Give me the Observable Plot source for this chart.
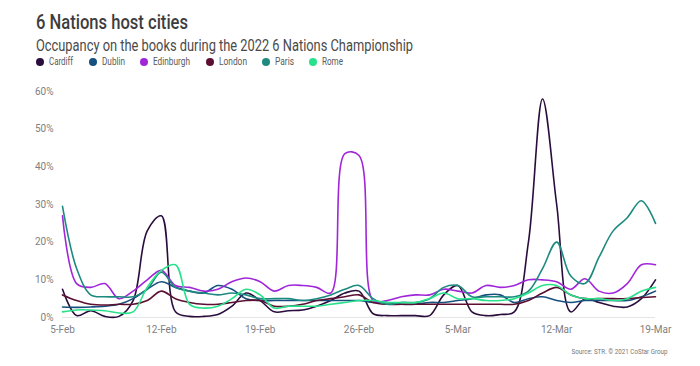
<!DOCTYPE html>
<html>
<head>
<meta charset="utf-8">
<script src="https://cdn.jsdelivr.net/npm/d3@7"></script>
<script src="https://cdn.jsdelivr.net/npm/@observablehq/plot@0.6"></script>
<style>
  body { margin: 0; background: #fff; font-family: "Roboto", sans-serif; }
  #wrap { width: 700px; height: 366px; position: relative; overflow: hidden; }
  .t { position: absolute; white-space: nowrap; display: inline-block; }
  #title { left: 36px; top: 10px; font-size: 21px; font-weight: 500; color: #3d3d3d; transform-origin: left center; }
  #subtitle { left: 36px; top: 35px; font-size: 17px; color: #4a4a4a; transform-origin: left center; }
  .dot { position: absolute; width: 8px; height: 8px; border-radius: 50%; top: 58px; }
  .lab { top: 55px; font-size: 11px; color: #5a5a5a; transform-origin: left center; }
  #chart { position: absolute; left: 0; top: 72px; }
  #source { right: 32px; top: 347px; font-size: 7.5px; color: #777; transform-origin: right center; }
</style>
</head>
<body>
<div id="wrap">
  <div id="title" class="t">6 Nations host cities</div>
  <div id="subtitle" class="t">Occupancy on the books during the 2022 6 Nations Championship</div>
  <div id="legend"></div>
  <div id="chart"></div>
  <div id="source" class="t">Source: STR. © 2021 CoStar Group</div>
</div>
<script>
const cities = ["Cardiff", "Dublin", "Edinburgh", "London", "Paris", "Rome"];
const colors = ["#2a0d3d", "#17507f", "#a126d8", "#5c0f31", "#1d8a80", "#27e28a"];
const startDate = "2022-02-05";
const tickDates = ["2022-02-05", "2022-02-12", "2022-02-19", "2022-02-26", "2022-03-05", "2022-03-12", "2022-03-19"];
const yTicks = [0, 10, 20, 30, 40, 50, 60];

// Daily occupancy (%) Feb 5 -> Mar 19
const cardiff = [7.5, 0.5, 1.8, 0.3, 0.3, 4.5, 23, 27, 1.5, 0.3, 0.3, 0.8, 3, 6.5, 4.5, 1.5, 1.8, 2, 3, 4.5, 6.5, 7, 1, 0.5, 0.5, 0.5, 0.5, 6, 8.5, 1.5, 0.5, 0.8, 1.5, 20, 58, 30, 1.5, 5, 4, 3, 2.8, 5, 10];
const dublin = [2.8, 2.7, 2.8, 3, 3.5, 5, 7.5, 9.5, 8, 7, 6.5, 8.5, 7.5, 5, 4.5, 4.5, 4.5, 4.5, 4.5, 4.5, 4.5, 4.5, 4, 4, 3.5, 3.5, 4, 4, 4.5, 5, 6, 6, 4, 5, 5.5, 4.5, 4, 4.5, 4.5, 4.5, 4.5, 5.5, 7];
const edinburgh = [27, 9, 8, 9, 5, 7, 10, 12.5, 8.5, 8, 7, 7.5, 9.5, 10.5, 9.5, 7, 8.5, 8.5, 8, 6.5, 43.5, 43, 4.5, 4.5, 5.5, 6, 6, 7.5, 7, 6.5, 8.5, 8, 8.5, 10, 10, 9.5, 7.5, 10.3, 7, 6.5, 9, 14, 14];
const london = [6, 4.5, 3.5, 3.3, 3.5, 3.5, 4.5, 7, 5, 4, 3.5, 3.5, 4, 4.5, 4.5, 3, 3, 3.5, 4.5, 5, 5.5, 6, 4, 3.5, 3.5, 3.5, 3.5, 3.5, 3.5, 3.5, 3.5, 3.5, 3.5, 4.5, 6.5, 8, 6, 5, 5, 5, 5, 5.3, 5.5];
const paris = [29.5, 13, 6, 5.5, 5.5, 5.5, 7.5, 12, 8, 7, 6.5, 6, 6.5, 6, 5, 5, 5, 4.5, 5, 6, 7.5, 8.5, 5, 3.5, 4, 4, 5, 8, 8.5, 5.5, 5.5, 5.5, 5.5, 7, 13, 20, 11, 9, 16, 23, 26.5, 31, 25];
const rome = [1.5, 2, 2, 1.8, 1.2, 1.5, 8, 12.5, 14, 3.5, 2.5, 3, 5, 7.5, 6, 2.5, 3, 3, 3, 3.5, 4, 4.5, 4.5, 4, 4, 4, 5, 6.5, 5, 5, 4.5, 4.5, 5, 6.5, 8.5, 8.5, 6, 5, 5, 4.5, 5, 7, 8];

const series = [cardiff, dublin, edinburgh, london, paris, rome];
const start = new Date(startDate + "T00:00:00Z");
const data = [];
series.forEach((vals, i) => {
  vals.forEach((v, d) => data.push({city: cities[i], date: d3.utcDay.offset(start, d), value: v}));
});

// condense text to the reference's narrow typeface widths
function fitEl(el, w) {
  const cw = el.getBoundingClientRect().width;
  el.style.transform = `scaleX(${w / cw})`;
}
fitEl(document.getElementById("title"), 152);
fitEl(document.getElementById("subtitle"), 377);
fitEl(document.getElementById("source"), 96);

// legend (hand-laid swatches like the reference)
const legend = document.getElementById("legend");
const legendX = [36, 89, 140, 206, 262, 309];
const legendW = [24, 23, 37, 28, 19, 21];
cities.forEach((c, i) => {
  const dot = document.createElement("span");
  dot.className = "dot";
  dot.style.left = legendX[i] + "px";
  dot.style.background = colors[i];
  legend.appendChild(dot);
  const lab = document.createElement("span");
  lab.className = "t lab";
  lab.style.left = (legendX[i] + 13) + "px";
  lab.textContent = c;
  legend.appendChild(lab);
  fitEl(lab, legendW[i]);
});

const chart = Plot.plot({
  width: 700,
  height: 272,
  marginLeft: 62,
  marginRight: 45,
  marginTop: 19,
  marginBottom: 27,
  style: {fontFamily: "Roboto, sans-serif", fontSize: "10px", color: "#808080"},
  x: {type: "utc", domain: [new Date(tickDates[0] + "T00:00:00Z"), new Date(tickDates[tickDates.length - 1] + "T00:00:00Z")], ticks: tickDates.map(t => new Date(t + "T00:00:00Z")), tickFormat: d3.utcFormat("%-d-%b"), tickSize: 0, tickPadding: 8, label: null},
  y: {domain: [0, 60], ticks: yTicks, tickFormat: d => d + "%", tickSize: 0, tickPadding: 9, label: null},
  color: {domain: cities, range: colors},
  marks: [
    Plot.ruleY([0], {stroke: "#e4e4e4", strokeWidth: 1}),
    Plot.line(data, {x: "date", y: "value", z: "city", stroke: "city", curve: "catmull-rom", strokeWidth: 1.6})
  ]
});
document.getElementById("chart").appendChild(chart);
</script>
</body>
</html>
